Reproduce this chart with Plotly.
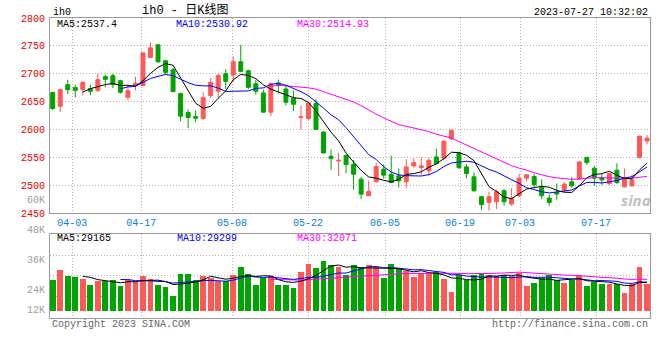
import pandas as pd
import plotly.graph_objects as go

# ---------------- data ----------------
dates = ["03-30", "03-31", "04-03", "04-04", "04-06", "04-07", "04-10", "04-11", "04-12", "04-13",
         "04-14", "04-17", "04-18", "04-19", "04-20", "04-21", "04-24", "04-25", "04-26", "04-27",
         "04-28", "05-04", "05-05", "05-08", "05-09", "05-10", "05-11", "05-12", "05-15", "05-16",
         "05-17", "05-18", "05-19", "05-22", "05-23", "05-24", "05-25", "05-26", "05-29", "05-30",
         "05-31", "06-01", "06-02", "06-05", "06-06", "06-07", "06-08", "06-09", "06-12", "06-13",
         "06-14", "06-15", "06-16", "06-19", "06-20", "06-21", "06-26", "06-27", "06-28", "06-29",
         "06-30", "07-03", "07-04", "07-05", "07-06", "07-07", "07-10", "07-11", "07-12", "07-13",
         "07-14", "07-17", "07-18", "07-19", "07-20", "07-21", "07-24", "07-25", "07-26", "07-27"]

opens = [2666.1, 2641.7, 2680.4, 2675.0, 2671.4, 2673.2, 2669.6, 2694.6, 2696.4, 2687.5,
         2657.7, 2679.2, 2678.6, 2729.2, 2751.8, 2723.2, 2707.1, 2664.3, 2630.4, 2623.2,
         2619.6, 2660.7, 2668.5, 2700.0, 2697.6, 2721.4, 2705.4, 2682.1, 2665.5, 2631.0,
         2683.3, 2672.6, 2656.0, 2621.4, 2619.6, 2646.4, 2595.2, 2551.8, 2543.5, 2553.6,
         2537.5, 2510.7, 2481.0, 2506.0, 2528.6, 2519.6, 2516.7, 2506.0, 2534.5, 2531.5,
         2525.6, 2550.6, 2548.2, 2583.3, 2558.3, 2532.7, 2514.9, 2479.2, 2469.0, 2470.2,
         2489.9, 2466.1, 2481.0, 2512.5, 2515.5, 2495.8, 2476.8, 2486.9, 2491.1, 2506.0,
         2510.7, 2549.4, 2530.4, 2513.7, 2503.0, 2526.8, 2497.0, 2498.8, 2549.4, 2579.2]

highs = [2667.9, 2673.2, 2689.3, 2680.4, 2686.3, 2680.4, 2700.0, 2698.8, 2700.0, 2689.3,
         2680.4, 2694.6, 2737.5, 2756.0, 2751.8, 2725.0, 2710.1, 2666.1, 2635.7, 2633.9,
         2666.7, 2692.3, 2700.0, 2708.3, 2731.0, 2751.8, 2707.1, 2689.3, 2671.4, 2684.5,
         2689.3, 2678.6, 2669.6, 2642.9, 2648.8, 2654.8, 2597.0, 2564.3, 2558.3, 2553.6,
         2545.2, 2514.9, 2508.0, 2540.5, 2537.5, 2553.0, 2529.8, 2546.4, 2548.2, 2549.4,
         2548.2, 2565.5, 2579.2, 2600.0, 2560.1, 2537.5, 2522.6, 2481.0, 2488.1, 2491.7,
         2492.9, 2494.6, 2520.2, 2519.6, 2519.6, 2510.7, 2482.7, 2503.0, 2506.0, 2514.9,
         2543.5, 2551.2, 2534.5, 2519.6, 2522.6, 2539.3, 2529.8, 2518.5, 2588.1, 2589.9]

lows = [2634.5, 2631.0, 2663.1, 2657.7, 2661.3, 2661.3, 2667.9, 2675.6, 2674.4, 2664.3,
        2652.4, 2670.2, 2677.4, 2728.0, 2719.6, 2699.4, 2666.7, 2614.9, 2602.4, 2613.1,
        2616.7, 2656.5, 2656.5, 2672.6, 2684.5, 2702.4, 2672.6, 2662.5, 2629.8, 2623.8,
        2664.3, 2642.9, 2632.7, 2600.0, 2616.7, 2598.8, 2557.7, 2527.4, 2516.7, 2521.4,
        2491.7, 2475.0, 2481.0, 2504.8, 2511.9, 2503.6, 2495.8, 2494.6, 2531.5, 2518.5,
        2516.7, 2537.5, 2545.2, 2581.0, 2528.6, 2512.5, 2488.1, 2456.0, 2454.2, 2457.1,
        2463.0, 2463.0, 2478.0, 2506.5, 2495.8, 2475.0, 2463.0, 2473.8, 2487.0, 2495.8,
        2509.5, 2536.3, 2498.8, 2500.0, 2500.0, 2501.8, 2495.8, 2497.0, 2548.2, 2573.2]

closes = [2637.5, 2671.4, 2671.4, 2670.2, 2684.5, 2668.5, 2689.3, 2689.9, 2680.4, 2666.7,
          2669.6, 2682.7, 2737.5, 2746.4, 2721.4, 2702.4, 2667.9, 2623.8, 2621.4, 2620.2,
          2657.1, 2684.5, 2697.0, 2686.3, 2721.4, 2704.2, 2675.6, 2668.5, 2631.0, 2682.1,
          2678.6, 2648.8, 2645.2, 2622.6, 2647.6, 2600.0, 2557.7, 2547.6, 2544.6, 2536.9,
          2519.6, 2483.9, 2488.7, 2533.3, 2517.9, 2504.8, 2507.7, 2532.7, 2540.5, 2534.5,
          2544.6, 2538.7, 2579.2, 2598.2, 2531.5, 2520.8, 2489.9, 2464.9, 2479.2, 2488.1,
          2470.2, 2476.2, 2512.5, 2518.5, 2500.6, 2481.0, 2469.0, 2483.9, 2501.8, 2498.8,
          2541.7, 2540.5, 2512.5, 2509.5, 2520.8, 2504.8, 2512.5, 2509.5, 2588.1, 2584.5]

volumes = [28100, 32200, 29800, 29400, 28600, 26100, 27600, 27700, 28100, 25700,
           28100, 27700, 29900, 28600, 26100, 25300, 21800, 30600, 30600, 28100,
           29900, 29000, 27700, 27600, 30200, 33400, 30600, 26100, 29000, 29800,
           26100, 26100, 24900, 31400, 34600, 33000, 35800, 34200, 33300, 30200,
           34200, 33300, 34200, 33300, 28800, 34600, 32500, 31800, 29500, 31100,
           30600, 31200, 28600, 23500, 30200, 28100, 30200, 30400, 30000, 29800,
           30200, 29800, 30800, 25700, 27100, 29000, 30000, 28100, 27100, 28100,
           30200, 25700, 27500, 26500, 26500, 26500, 23000, 26500, 33500, 26500]

tick_labels = ["04-03", "04-17", "05-08", "05-22", "06-05", "06-19", "07-03", "07-17"]
price_ticks = [2450, 2500, 2550, 2600, 2650, 2700, 2750, 2800]
vol_labels = ["60K", "48K", "36K", "24K", "12K"]

title_text = "ih0 - 日K线图"
stamp_text = "2023-07-27 10:32:02"
price_ma_text = ["MA5:2537.4", "MA10:2530.92", "MA30:2514.93"]
vol_ma_text = ["MA5:29165", "MA10:29299", "MA30:32071"]

# ---------------- derived series ----------------
df = pd.DataFrame(dict(date=dates, open=opens, high=highs, low=lows,
                       close=closes, volume=volumes))
df["i"] = range(len(df))
for n in (5, 10, 30):
    df[f"ma{n}"] = df["close"].rolling(n).mean()
    df[f"vma{n}"] = df["volume"].rolling(n).mean()

# ---------------- layout geometry / style ----------------
W, H = 660, 360
L, R, T, B = 50, 650, 18, 318
STEP = 7.523
FIRST = 52.7
x0 = -(FIRST - L) / STEP
x1 = x0 + (R - L) / STEP

def fx(px):
    return (px - L) / (R - L)

def fy(py):
    return (B - py) / (B - T)

def idx_at(px):
    return (px - FIRST) / STEP

def vol_at(py):
    return 24000 + (290.3 - py) * 12000 / 29.8

VBASE = vol_at(310.7)
tick_px = [72.3, 141.3, 232, 308, 385, 460, 520, 596]
tick_idx = [idx_at(p) for p in tick_px]

RED = "#ff5858"
GREEN = "#00a400"
MONO = "Liberation Mono, DejaVu Sans Mono, monospace"
GRID = "#b4b4b4"
BORDER = "#9a9a9a"
MA_COL = {5: "#000000", 10: "#0000ff", 30: "#ff00ff"}

up = df["close"] >= df["open"]
bar_colors = [RED if u else GREEN for u in up]

fig = go.Figure()
fig.add_trace(go.Candlestick(
    x=df["i"], open=df["open"], high=df["high"], low=df["low"], close=df["close"],
    increasing=dict(line=dict(color=RED, width=1), fillcolor=RED),
    decreasing=dict(line=dict(color=GREEN, width=1), fillcolor=GREEN),
    whiskerwidth=0, xaxis="x", yaxis="y", showlegend=False, name="K"))
for n in (30, 10, 5):
    fig.add_trace(go.Scatter(x=df["i"], y=df[f"ma{n}"], mode="lines",
                             line=dict(color=MA_COL[n], width=1),
                             xaxis="x", yaxis="y", showlegend=False, name=f"MA{n}"))

fig.add_trace(go.Bar(x=df["i"], y=df["volume"] - VBASE, base=VBASE,
                     marker=dict(color=bar_colors, line=dict(width=0)),
                     width=0.77, xaxis="x2", yaxis="y2", showlegend=False, name="VOL"))
for n in (30, 10, 5):
    fig.add_trace(go.Scatter(x=df["i"], y=df[f"vma{n}"], mode="lines",
                             line=dict(color=MA_COL[n], width=1),
                             xaxis="x2", yaxis="y2", showlegend=False, name=f"VMA{n}"))

axis_common = dict(showline=True, mirror=True, linecolor=BORDER, linewidth=1,
                   showgrid=True, gridcolor=GRID, griddash="1px,2px", gridwidth=1,
                   zeroline=False, ticks="")

fig.update_layout(
    width=W, height=H,
    margin=dict(l=L, r=W - R, t=T, b=H - B),
    paper_bgcolor="white", plot_bgcolor="white",
    boxgap=0.25,
    bargap=0,
    xaxis=dict(domain=[0, 1], anchor="y", range=[x0, x1],
               tickvals=tick_idx, ticktext=tick_labels,
               tickfont=dict(family=MONO, size=10, color="#0a80d0"),
               rangeslider=dict(visible=False), **axis_common),
    yaxis=dict(domain=[fy(213), 1], anchor="x", range=[2450, 2800],
               tickvals=price_ticks,
               tickfont=dict(family=MONO, size=10, color="#e60000"),
               ticklabelstandoff=2, **axis_common),
    xaxis2=dict(domain=[0, 1], anchor="y2", range=[x0, x1], matches="x",
                tickvals=tick_idx, showticklabels=False, **axis_common),
    yaxis2=dict(domain=[0, fy(234)], anchor="x2", range=[vol_at(318), vol_at(234)],
                tickvals=[vol_at(255), vol_at(275.5), vol_at(296)],
                showticklabels=False, **axis_common),
)

ann = []

def text(s, px, py, color="#000", size=10, xanchor="left", family=MONO):
    ann.append(dict(text=s, x=fx(px), y=fy(py), xref="paper", yref="paper",
                    xanchor=xanchor, yanchor="middle", showarrow=False,
                    font=dict(family=family, size=size, color=color)))

text("ih0", 50.5, 12.5)
text(title_text, 185, 10.5, size=12, xanchor="center",
     family="Liberation Mono, Noto Sans CJK SC, monospace")
text(stamp_text, 650, 12.5, xanchor="right")
for s, px, n in zip(price_ma_text, [55, 174, 295], (5, 10, 30)):
    text(s, px, 24, color=MA_COL[n])
for s, px, n in zip(vol_ma_text, [55, 175, 295], (5, 10, 30)):
    text(s, px, 238.5, color=MA_COL[n])
for s, py in zip(vol_labels, [200.7, 230.7, 260.7, 290.3, 310]):
    text(s, 46.5, py, color="#a0a0a0", xanchor="right")
text("Copyright 2023 SINA.COM", 50, 324, color="#666666")
text("http://finance.sina.com.cn", 650, 324, color="#666666", xanchor="right")
ann.append(dict(text="<b><i>sina</i></b>", x=fx(636), y=fy(200), xref="paper", yref="paper",
                xanchor="center", yanchor="middle", showarrow=False,
                font=dict(family="Noto Sans, DejaVu Sans", size=15, color="rgba(170,170,170,0.75)")))
fig.update_layout(annotations=ann)

fig.write_html("out.html",
               config={"displayModeBar": False},
               post_script="document.body.style.margin='0';document.body.style.overflow='hidden';")
